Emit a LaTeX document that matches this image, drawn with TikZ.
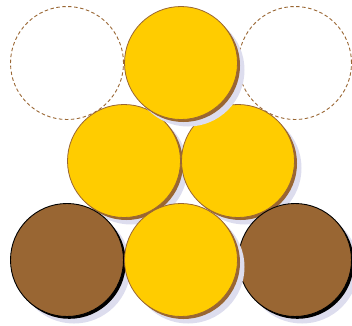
\documentclass[tikz,border=0pt]{standalone}
\usetikzlibrary{shadows}
\definecolor{gold}{HTML}{FFCC00}
\definecolor{bronze}{HTML}{996633}
\definecolor{lav}{HTML}{DDDDEE}
\tikzset{
  ball/.style={circle, minimum size=113pt, inner sep=0pt, outer sep=0pt},
  yellowball/.style={ball, fill=gold, draw=bronze, line width=0.8pt,
    general shadow={fill=lav, shadow xshift=7pt, shadow yshift=-7pt},
    general shadow={fill=bronze, shadow xshift=2.5pt, shadow yshift=-2.5pt}},
  brownball/.style={ball, fill=bronze, draw=black, line width=0.9pt,
    general shadow={fill=lav, shadow xshift=7pt, shadow yshift=-7pt},
    general shadow={fill=black, shadow xshift=2.3pt, shadow yshift=-2.3pt}},
  ghost/.style={ball, draw=bronze, line width=0.9pt, dash pattern=on 3.5pt off 2.5pt}
}
\begin{document}
\begin{tikzpicture}[x=1pt, y=-1pt]
\useasboundingbox (0,0) rectangle (352,325);
\node[ghost] (g1) at (67,63) {};
\node[ghost] (g2) at (295,63) {};
\node[yellowball] (m1) at (124,161) {};
\node[yellowball] (m2) at (238,161) {};
\node[yellowball] (t) at (181,63) {};
\node[brownball] (b1) at (67,260) {};
\node[brownball] (b3) at (295,260) {};
\node[yellowball] (b2) at (181,260) {};
\end{tikzpicture}
\end{document}
